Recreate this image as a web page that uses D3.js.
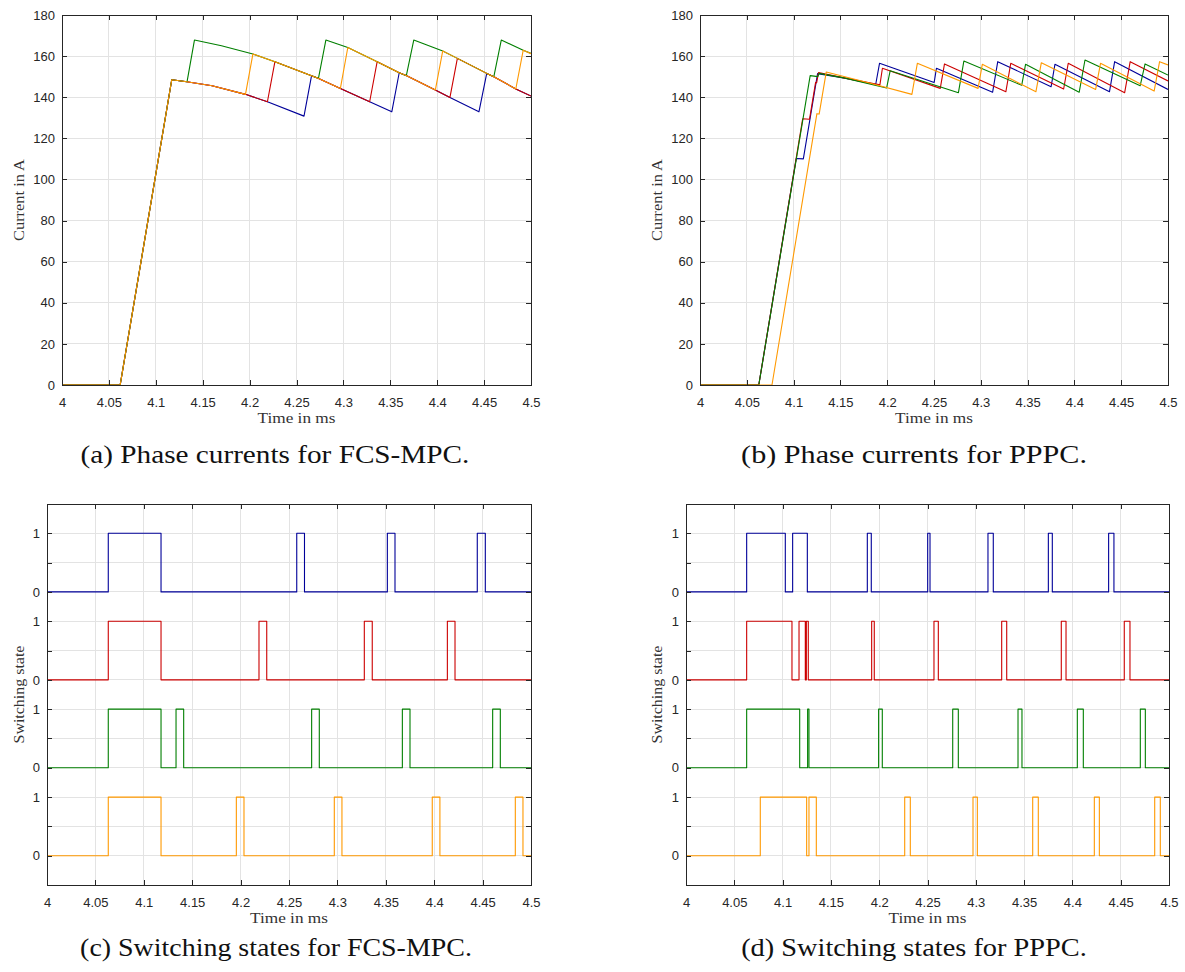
<!DOCTYPE html>
<html><head><meta charset="utf-8">
<script src="https://cdn.jsdelivr.net/npm/d3@7"></script>
<style>body{margin:0;background:#fff}svg{display:block}</style>
</head><body><svg id="chart" width="1185" height="972"></svg>
<script>
// ---------- tick definitions ----------
const timeTicks = [4, 4.05, 4.1, 4.15, 4.2, 4.25, 4.3, 4.35, 4.4, 4.45, 4.5];
const timeTickLabels = ["4", "4.05", "4.1", "4.15", "4.2", "4.25", "4.3", "4.35", "4.4", "4.45", "4.5"];
const currentTicks = [0, 20, 40, 60, 80, 100, 120, 140, 160, 180];
const currentTickLabels = ["0", "20", "40", "60", "80", "100", "120", "140", "160", "180"];
const stateTicks = [-0.5, 0, 0.5, 1, 1.5, 2, 2.5, 3, 3.5, 4, 4.5, 5, 5.5, 6];
const stateTickLabels = ["", "0", "", "1", "0", "", "1", "0", "", "1", "0", "", "1", ""];
// vertical offsets of the stacked switching signals (blue, red, green, orange)
const stateOffsets = [4.5, 3, 1.5, 0];

const colors = ["#000099", "#cc0000", "#007f00", "#ff9900"];

// ---------- (a) phase currents FCS-MPC  [time ms, current A] ----------
const fcsBlue = [[4,0],[4.062,0],[4.117,148.5],[4.133,147.5],[4.16,145.6],[4.1956,141.4],[4.219,137.8],[4.258,130.8],[4.266,150.4],[4.273,149.2],[4.2968,144.3],[4.328,137.8],[4.3516,132.9],[4.3595,151.9],[4.3675,150.5],[4.398,143.5],[4.4136,139.9],[4.4445,132.9],[4.4528,151.6],[4.4604,150],[4.4838,144],[4.5,140.6]];
const fcsRed = [[4,0],[4.062,0],[4.117,148.5],[4.133,147.5],[4.16,145.6],[4.1956,141.4],[4.219,137.8],[4.227,157.3],[4.266,150.4],[4.273,149.2],[4.2968,144.3],[4.328,137.8],[4.336,157.3],[4.3595,151.9],[4.3675,150.5],[4.398,143.5],[4.4136,139.9],[4.4215,158.9],[4.4528,151.6],[4.4604,150],[4.4838,144],[4.5,140.6]];
const fcsGreen = [[4,0],[4.062,0],[4.117,148.5],[4.1333,147.5],[4.1412,167.8],[4.17,165],[4.2035,161.0],[4.227,157.3],[4.266,150.4],[4.2734,149.2],[4.2813,167.8],[4.3047,164.2],[4.336,157.3],[4.3595,151.9],[4.3671,150.5],[4.375,167.8],[4.4059,162.5],[4.4215,158.9],[4.4528,151.6],[4.4604,150],[4.4683,167.8],[4.4917,162.9],[4.5,161.3]];
const fcsOrange = [[4,0],[4.062,0],[4.117,148.5],[4.133,147.5],[4.16,145.6],[4.1956,141.4],[4.2035,161.0],[4.227,157.3],[4.266,150.4],[4.273,149.2],[4.2968,144.3],[4.3047,164.2],[4.336,157.3],[4.3595,151.9],[4.3675,150.5],[4.398,143.5],[4.4059,162.5],[4.4215,158.9],[4.4528,151.6],[4.4604,150],[4.4838,144],[4.4917,162.9],[4.5,161.2]];

// ---------- (b) phase currents PPPC ----------
const ppBlue = [[4,0],[4.0628,0],[4.1028,110.2],[4.1104,110],[4.1256,151.5],[4.155,149.3],[4.1877,146.2],[4.1918,156.5],[4.2502,147.2],[4.2526,154.1],[4.3126,142.4],[4.3181,157.3],[4.3751,145.1],[4.3792,156],[4.4375,142.7],[4.443,157.3],[4.5,143.8]];
const ppRed = [[4,0],[4.0628,0],[4.1097,129.5],[4.117,129.3],[4.1235,147.2],[4.1246,147],[4.1266,152],[4.155,149.3],[4.1922,146],[4.1949,154.1],[4.2567,144.3],[4.2612,156.2],[4.3268,142.7],[4.332,156.5],[4.3885,144],[4.3934,156.5],[4.4537,142.2],[4.4596,157.3],[4.5,147.9]];
const ppGreen = [[4,0],[4.0628,0],[4.1177,150.5],[4.1259,150],[4.1273,151.6],[4.155,149.3],[4.1994,144.5],[4.2032,152.9],[4.2761,142.2],[4.2819,157.6],[4.3437,145.8],[4.3478,156],[4.4051,142.4],[4.4113,158.1],[4.4703,145.6],[4.4755,156.2],[4.5,150.8]];
const ppOrange = [[4,0],[4.0769,0],[4.1249,132],[4.1273,131.8],[4.1349,152.3],[4.18,147],[4.2264,141.4],[4.2322,156.5],[4.2971,144.3],[4.3016,156],[4.3589,142.7],[4.3647,156.8],[4.4227,143.8],[4.4279,156.5],[4.4852,143],[4.491,157.3],[4.5,155.7]];

// ---------- (c) switching states FCS-MPC: [on, off] intervals in ms ----------
const fcsSwBlue = [[4.0633,4.1178],[4.258,4.266],[4.3516,4.3595],[4.4445,4.4528]];
const fcsSwRed = [[4.0633,4.1178],[4.219,4.227],[4.3278,4.336],[4.4136,4.4215]];
const fcsSwGreen = [[4.0633,4.1178],[4.1333,4.1412],[4.2734,4.2813],[4.3671,4.375],[4.4604,4.4683]];
const fcsSwOrange = [[4.0633,4.1178],[4.1956,4.2035],[4.2968,4.3047],[4.398,4.4059],[4.4838,4.4917]];

// ---------- (d) switching states PPPC ----------
const ppSwBlue = [[4.0628,4.1028],[4.1104,4.1256],[4.1877,4.1918],[4.2502,4.2526],[4.3126,4.3181],[4.3751,4.3792],[4.4375,4.443]];
const ppSwRed = [[4.0628,4.1097],[4.117,4.1235],[4.1246,4.1266],[4.1922,4.1949],[4.2567,4.2612],[4.3268,4.332],[4.3885,4.3934],[4.4537,4.4596]];
const ppSwGreen = [[4.0628,4.1177],[4.1259,4.1273],[4.1994,4.2032],[4.2761,4.2819],[4.3437,4.3478],[4.4051,4.4113],[4.4703,4.4755]];
const ppSwOrange = [[4.0769,4.1249],[4.1273,4.1349],[4.2264,4.2322],[4.2971,4.3016],[4.3589,4.3647],[4.4227,4.4279],[4.4852,4.491]];

// ---------- drawing ----------
const svg = d3.select('#chart');
svg.append('rect').attr('width', 1185).attr('height', 972).attr('fill', '#fff');
const tickFont = '"Liberation Sans", Arial, Helvetica, sans-serif';
const serif = '"Liberation Serif", "Times New Roman", serif';
const axisColor = '#262626';
let clipId = 0;

// stretch a text horizontally (about its anchor point) so it spans the given width
function fitText(sel, width, cx, cy, rot) {
  const natural = sel.node().getComputedTextLength();
  const s = natural > 0 ? width / natural : 1;
  sel.attr('x', 0).attr('y', 0)
    .attr('transform', `translate(${cx},${cy})${rot ? ' rotate(' + rot + ')' : ''} scale(${s},1)`);
}

function panel(cfg) {
  const x = d3.scaleLinear().domain([4, 4.5]).range([cfg.left, cfg.right]);
  const y = d3.scaleLinear().domain(cfg.yDomain).range([cfg.bottom, cfg.top]);
  const g = svg.append('g');
  const w = cfg.right - cfg.left, h = cfg.bottom - cfg.top;

  // grid
  const grid = g.append('g').attr('shape-rendering', 'crispEdges').attr('stroke', '#e3e3e3').attr('stroke-width', 1);
  grid.selectAll('line.gx').data(timeTicks).join('line').attr('class', 'gx')
    .attr('x1', d => x(d)).attr('x2', d => x(d)).attr('y1', cfg.top).attr('y2', cfg.bottom);
  grid.selectAll('line.gy').data(cfg.yTicks).join('line').attr('class', 'gy')
    .attr('y1', d => y(d)).attr('y2', d => y(d)).attr('x1', cfg.left).attr('x2', cfg.right);

  // data
  const id = 'clip' + (clipId++);
  svg.append('clipPath').attr('id', id).append('rect')
    .attr('x', cfg.left).attr('y', cfg.top - 1).attr('width', w).attr('height', h + 2);
  const line = d3.line().x(d => x(d[0])).y(d => y(d[1]));
  const lines = g.append('g').attr('clip-path', `url(#${id})`);
  cfg.series.forEach((s, i) => {
    lines.append('path').datum(s).attr('d', line).attr('fill', 'none')
      .attr('stroke', colors[i]).attr('stroke-width', 1.1).attr('stroke-linejoin', 'round');
  });

  // axes
  const styleAxis = a => {
    a.attr('shape-rendering', 'crispEdges');
    a.select('.domain').attr('stroke', axisColor).attr('stroke-width', 1);
    a.selectAll('.tick line').attr('stroke', axisColor);
    a.selectAll('.tick text').attr('fill', axisColor).attr('font-family', tickFont).attr('font-size', 13);
  };
  g.append('g').attr('transform', `translate(0,${cfg.bottom})`)
    .call(d3.axisBottom(x).tickValues(timeTicks).tickFormat((d, i) => timeTickLabels[i]).tickSizeInner(-5).tickSizeOuter(0).tickPadding(13))
    .call(styleAxis);
  g.append('g').attr('transform', `translate(0,${cfg.top})`)
    .call(d3.axisTop(x).tickValues(timeTicks).tickFormat('').tickSizeInner(-5).tickSizeOuter(0))
    .call(styleAxis);
  g.append('g').attr('transform', `translate(${cfg.left},0)`)
    .call(d3.axisLeft(y).tickValues(cfg.yTicks).tickFormat((d, i) => cfg.yLabels[i]).tickSizeInner(-5).tickSizeOuter(0).tickPadding(7))
    .call(styleAxis);
  g.append('g').attr('transform', `translate(${cfg.right},0)`)
    .call(d3.axisRight(y).tickValues(cfg.yTicks).tickFormat('').tickSizeInner(-5).tickSizeOuter(0))
    .call(styleAxis);

  // labels
  g.append('text').attr('text-anchor', 'middle').attr('font-family', serif).attr('font-size', 15.5).attr('fill', '#333')
    .text('Time in ms').call(fitText, 78, (cfg.left + cfg.right) / 2, cfg.bottom + 38, 0);
  g.append('text').attr('text-anchor', 'middle').attr('font-family', serif).attr('font-size', 15.5).attr('fill', '#333')
    .text(cfg.yTitle).call(fitText, cfg.yTitleW, cfg.yLabelX + 5, (cfg.top + cfg.bottom) / 2, -90);
  g.append('text').attr('text-anchor', 'middle').attr('font-family', serif).attr('font-size', 25).attr('fill', '#111')
    .text(cfg.caption).call(fitText, cfg.capW, cfg.capX, cfg.capY, 0);
}

function stepSeries(pulses, offset) {
  const pts = [[4, offset]];
  pulses.forEach(([on, off]) => {
    pts.push([on, offset], [on, offset + 1], [off, offset + 1], [off, offset]);
  });
  pts.push([4.5, offset]);
  return pts;
}

panel({left: 62, right: 531, top: 15, bottom: 385, yDomain: [0, 180],
  yTicks: currentTicks, yLabels: currentTickLabels,
  series: [fcsBlue, fcsRed, fcsGreen, fcsOrange],
  yTitle: 'Current in A', yTitleW: 82, yLabelX: 19,
  caption: '(a) Phase currents for FCS-MPC.', capX: 275, capY: 463, capW: 389});

panel({left: 700, right: 1168, top: 15, bottom: 385, yDomain: [0, 180],
  yTicks: currentTicks, yLabels: currentTickLabels,
  series: [ppBlue, ppRed, ppGreen, ppOrange],
  yTitle: 'Current in A', yTitleW: 82, yLabelX: 657,
  caption: '(b) Phase currents for PPPC.', capX: 914, capY: 463, capW: 346});

panel({left: 47, right: 531, top: 504, bottom: 885, yDomain: [-0.5, 6],
  yTicks: stateTicks, yLabels: stateTickLabels,
  series: [fcsSwBlue, fcsSwRed, fcsSwGreen, fcsSwOrange].map((p, i) => stepSeries(p, stateOffsets[i])),
  yTitle: 'Switching state', yTitleW: 98, yLabelX: 19,
  caption: '(c) Switching states for FCS-MPC.', capX: 276, capY: 956, capW: 392});

panel({left: 686, right: 1169, top: 504, bottom: 885, yDomain: [-0.5, 6],
  yTicks: stateTicks, yLabels: stateTickLabels,
  series: [ppSwBlue, ppSwRed, ppSwGreen, ppSwOrange].map((p, i) => stepSeries(p, stateOffsets[i])),
  yTitle: 'Switching state', yTitleW: 98, yLabelX: 657,
  caption: '(d) Switching states for PPPC.', capX: 914, capY: 956, capW: 346});
</script></body></html>
